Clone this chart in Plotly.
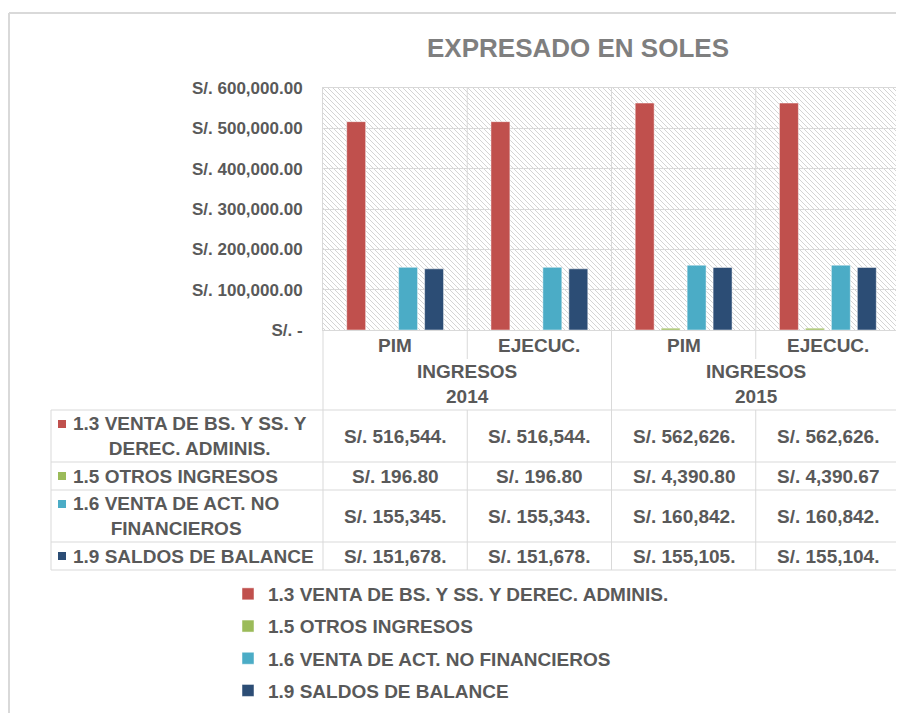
import base64
import plotly.graph_objects as go

# ---------------- data ----------------
categories = ["PIM", "EJECUC.", "PIM", "EJECUC."]
group_labels = ["INGRESOS<br>2014", "INGRESOS<br>2015"]
series_names = [
    "1.3 VENTA DE BS. Y SS. Y DEREC. ADMINIS.",
    "1.5 OTROS INGRESOS",
    "1.6 VENTA DE ACT. NO FINANCIEROS",
    "1.9 SALDOS DE BALANCE",
]
table_row_labels = [
    "1.3 VENTA DE BS. Y SS. Y<br>DEREC. ADMINIS.",
    "1.5 OTROS INGRESOS",
    "1.6 VENTA DE ACT. NO<br>FINANCIEROS",
    "1.9 SALDOS DE BALANCE",
]
venta_bs_ss = [516544, 516544, 562626, 562626]
otros_ingresos = [196.80, 196.80, 4390.80, 4390.67]
venta_act_nf = [155345, 155343, 160842, 160842]
saldos_balance = [151678, 151678, 155105, 155104]
y_tick_values = [0, 100000, 200000, 300000, 400000, 500000, 600000]

series_values = [venta_bs_ss, otros_ingresos, venta_act_nf, saldos_balance]
colors = ["#C0504D", "#9BBB59", "#4BACC6", "#2C4D75"]

# ---------------- helpers ----------------
PAGE_W, PAGE_H = 904, 713
OFF = 8                                 # default page body margin
W, H = PAGE_W - OFF, PAGE_H - OFF
PL, PR, PT, PB = 323, 900, 88, 330      # plot area in page pixels


def px_x(p):
    return (p - PL) / (PR - PL)


def px_y(p):
    return (PB - p) / (PB - PT)


def money_tick(v):
    return "S/. -" if v == 0 else f"S/. {v:,.2f}"


def money_cell(v):
    if v >= 100000:
        return f"S/. {int(v):,}."
    return f"S/. {v:,.2f}"


TXT = "#595959"
GRID = "#d9d9d9"
FONT = "Liberation Sans, Arial, sans-serif"

x_idx = list(range(len(categories)))

fig = go.Figure()
for k, (name, vals, col) in enumerate(zip(series_names, series_values, colors)):
    fig.add_trace(go.Bar(
        x=x_idx, y=vals, name=name, legendgroup=f"g{k}",
        marker=dict(color=col, line=dict(color="rgba(255,255,255,0.6)", width=0.8)),
    ))

# hatched plot background
svg = (
    f'<svg xmlns="http://www.w3.org/2000/svg" width="{PR-PL}" height="{PB-PT}">'
    '<defs><pattern id="p" width="5" height="5" patternUnits="userSpaceOnUse">'
    '<path d="M0,0 L5,5 M-1,4 L1,6 M4,-1 L6,1" stroke="#d4d4d4" stroke-width="1"/>'
    '</pattern></defs><rect width="100%" height="100%" fill="url(#p)"/></svg>'
)
src = "data:image/svg+xml;base64," + base64.b64encode(svg.encode()).decode()

shapes = []
ann = []


def hline(y, x0, x1, w=1):
    shapes.append(dict(type="line", xref="paper", yref="paper",
                       x0=px_x(x0), x1=px_x(x1), y0=px_y(y), y1=px_y(y),
                       line=dict(color=GRID, width=w)))


def vline(x, y0, y1, w=1):
    shapes.append(dict(type="line", xref="paper", yref="paper",
                       x0=px_x(x), x1=px_x(x), y0=px_y(y0), y1=px_y(y1),
                       line=dict(color=GRID, width=w)))


# outer chart frame
hline(13, 9, 920, 2)
vline(9, 13, 730, 2)

# category separators inside plot (between categories, data coords)
for b in [0.5, 1.5, 2.5]:
    shapes.append(dict(type="line", xref="x", yref="paper", x0=b, x1=b, y0=0, y1=1,
                       line=dict(color=GRID, width=1)))

# data table grid
row_edges = [410, 462, 490, 542, 570]
for y in row_edges:
    hline(y, 51, 900)
vline(51, 410, 570)
vline(PL, 330, 570)
vline(PR, 330, 570)
for b in [0.5, 2.5]:
    shapes.append(dict(type="line", xref="x", yref="paper", x0=b, x1=b,
                       y0=px_y(330), y1=px_y(359), line=dict(color=GRID, width=1)))
    shapes.append(dict(type="line", xref="x", yref="paper", x0=b, x1=b,
                       y0=px_y(410), y1=px_y(570), line=dict(color=GRID, width=1)))
shapes.append(dict(type="line", xref="x", yref="paper", x0=1.5, x1=1.5,
                   y0=px_y(330), y1=px_y(570), line=dict(color=GRID, width=1)))

# category labels
for i, c in enumerate(categories):
    ann.append(dict(x=i, y=px_y(345), xref="x", yref="paper", text=c, showarrow=False,
                    xanchor="center", yanchor="middle",
                    font=dict(size=19, color=TXT, family=FONT, weight="bold")))
for g, lab in enumerate(group_labels):
    ann.append(dict(x=2 * g + 0.5, y=px_y(384), xref="x", yref="paper", text=lab,
                    showarrow=False, xanchor="center", yanchor="middle", align="center",
                    font=dict(size=19, color=TXT, family=FONT, weight="bold")))

# table rows
row_centers = [(row_edges[k] + row_edges[k + 1]) / 2 for k in range(4)]
for r, (lab, vals, col) in enumerate(zip(table_row_labels, series_values, colors)):
    yc = row_centers[r]
    nlines = lab.count("<br>") + 1
    sq_y = yc - (12 if nlines == 2 else 0)
    shapes.append(dict(type="rect", xref="paper", yref="paper",
                       x0=px_x(58), x1=px_x(66), y0=px_y(sq_y + 4), y1=px_y(sq_y - 4),
                       fillcolor=col, line=dict(width=0)))
    ann.append(dict(x=px_x(71), y=px_y(yc), xref="paper", yref="paper", text=lab,
                    showarrow=False, xanchor="left", yanchor="middle", align="center",
                    font=dict(size=19, color=TXT, family=FONT, weight="bold")))
    for i, v in enumerate(vals):
        ann.append(dict(x=i, y=px_y(yc), xref="x", yref="paper", text=money_cell(v),
                        showarrow=False, xanchor="center", yanchor="middle",
                        font=dict(size=19, color=TXT, family=FONT, weight="bold")))

fig.update_layout(
    width=W, height=H,
    margin=dict(l=PL - OFF, r=W - (PR - OFF), t=PT - OFF, b=H - (PB - OFF), pad=0),
    paper_bgcolor="white", plot_bgcolor="rgba(0,0,0,0)",
    barmode="group", bargap=0.28, bargroupgap=0.27,
    title=dict(text="EXPRESADO EN SOLES", x=(578 - OFF) / W, y=1 - (48 - OFF) / H,
               xanchor="center", yanchor="middle",
               font=dict(size=26, color="#7f7f7f", family=FONT, weight="bold")),
    xaxis=dict(range=[-0.5, len(categories) - 0.5], showticklabels=False, showgrid=False,
               zeroline=False, showline=True, mirror=True, linecolor=GRID, linewidth=1,
               ticks=""),
    yaxis=dict(range=[0, y_tick_values[-1]], tickvals=y_tick_values,
               ticktext=[money_tick(v) for v in y_tick_values],
               showgrid=True, gridcolor=GRID, gridwidth=1, zeroline=False,
               showline=True, mirror=True, linecolor=GRID, ticks="",
               ticklabelstandoff=16,
               tickfont=dict(size=17, color=TXT, family=FONT, weight="bold")),
    legend=dict(x=px_x(228), y=px_y(575), xanchor="left", yanchor="top",
                orientation="v", bgcolor="rgba(0,0,0,0)", tracegroupgap=4.5,
                font=dict(size=19, color=TXT, family=FONT, weight="bold")),
    images=[dict(source=src, xref="paper", yref="paper", x=0, y=1, sizex=1, sizey=1,
                 sizing="stretch", layer="below")],
    shapes=shapes,
    annotations=ann,
    showlegend=True,
)

fig.write_html("out.html")
